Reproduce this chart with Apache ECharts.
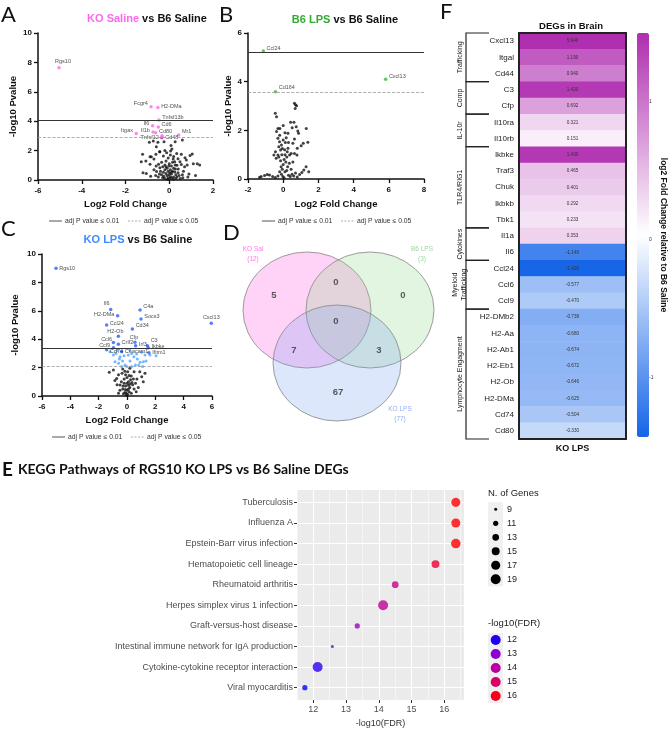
<!DOCTYPE html>
<html><head><meta charset="utf-8">
<script src="https://cdn.jsdelivr.net/npm/echarts@6/dist/echarts.min.js"></script>
<style>html,body{margin:0;padding:0;background:#fff}#c{width:669px;height:731px}</style>
</head><body><div id="c"></div>
<script>
// ---------- Panel A: KO Saline vs B6 Saline ----------
const aGenes = ['Rgs10','Fcgr4','H2-DMa','Tnfsf13b','Il6','Cd6','Itgax','Il1b','Cd80','Mr1','Tnfsf12','Cd48'];
const aFC    = [-5.04,-0.83,-0.52,-0.47,-0.76,-0.50,-1.51,-0.74,-0.62,0.43,-0.33,-0.33];
const aLogP  = [7.64,4.99,4.93,4.08,3.69,3.60,3.17,3.27,3.22,3.06,3.01,2.90];
const aThresholds = [4.08, 2.93];
const aBackground = [[-0.91,2.56],[-0.73,2.65],[-0.52,2.56],[-0.34,2.88],[-0.24,2.61],[0.08,2.34],[0.27,2.61],[0.6,2.72],[0.12,2.11],[0.06,1.97],[-0.43,1.93],[-0.61,1.75],[-0.88,1.59],[-1.22,1.75],[-1.07,1.29],[-0.88,1.07],[-0.7,1.43],[-0.27,1.63],[0.34,1.81],[0.55,1.75],[0.72,1.52],[0.95,1.66],[0.49,1.25],[0.82,1.02],[1.1,1.11],[1.28,1.11],[-0.49,1.07],[-0.43,0.84],[-0.2,1.02],[0.18,1.43],[0.27,1.02],[0.41,0.75],[-0.58,0.57],[-0.27,0.52],[-1.28,1.25],[-1.05,0.45],[-0.82,1.59],[-0.59,2.27],[-0.44,1.93],[0.78,1.36],[1.05,1.77],[1.39,1.02],[-0.3,0.9],[-0.2,0.7],[-0.15,0.45],[-0.1,0.3],[-0.05,0.15],[0,0.05],[0.05,0.2],[0.1,0.4],[0.15,0.6],[0.2,0.8],[0.25,0.55],[0.3,0.35],[0.35,0.2],[0.4,0.5],[-0.35,0.35],[-0.25,0.25],[-0.4,0.6],[-0.1,0.8],[0,1.1],[0.1,0.95],[-0.05,0.6],[0.05,0.7],[0.2,0.2],[0.3,0.1],[-0.2,0.1],[-0.3,0.15],[0.45,0.3],[0.5,0.1],[0.6,0.35],[-0.5,0.2],[-0.45,0.4],[0.15,1.2],[-0.15,1.3],[0.35,1.0],[0.25,1.25],[-0.05,1.5],[0.05,1.7],[0.2,1.6],[-0.12,1.85],[-0.2,2.0],[0.4,1.45],[-0.6,0.95],[0.65,0.6],[0.7,0.9],[-0.7,0.7],[0.55,1.05],[-0.35,1.2],[0,0.35],[0.1,0.15],[-0.08,0.05],[0.18,0.05],[-0.15,0.9],[0.28,0.75],[0.62,0.15],[-0.62,0.3],[0.02,0.5],[-0.02,0.95],[0.12,0.55],[0.9,0.4],[1.2,0.3],[0.85,0.2],[-0.85,0.25],[-1.2,0.5]];

// ---------- Panel B: B6 LPS vs B6 Saline ----------
const bGenes = ['Ccl24','Cxcl13','Cd164'];
const bFC    = [-1.13, 5.82, -0.44];
const bLogP  = [5.26, 4.10, 3.59];
const bThresholds = [5.22, 3.55];
const bBackground = [[0.64,3.11],[0.76,3.01],[0.68,2.9],[0.7,3.05],[-0.45,2.7],[-0.38,2.56],[0.42,2.33],[0.61,2.33],[0.74,2.15],[0.51,2.11],[-0.3,2.08],[-0.38,1.95],[-0.19,2.08],[1.31,2.08],[0.83,1.97],[0.87,1.88],[0.27,1.88],[0.17,1.7],[-0.3,1.67],[-0.21,1.53],[1.4,1.51],[1.14,1.47],[1.02,1.37],[0.64,1.64],[0.55,1.47],[0.8,1.26],[-0.44,1.12],[-0.53,0.99],[-0.3,0.99],[-0.4,0.85],[-0.25,1.33],[-0.15,1.19],[0.27,1.26],[0.23,1.12],[0.36,0.99],[0.45,1.05],[0.64,1.05],[0.78,0.99],[1.17,0.37],[1.06,0.27],[0.93,0.19],[-0.78,0.16],[-1.06,0.14],[-1.25,0.1],[-1.34,0.07],[-0.91,0.19],[-0.1,0.2],[-0.05,0.4],[0,0.6],[0.05,0.8],[-0.08,1.0],[0.08,1.2],[-0.12,0.5],[0.1,0.3],[0.15,0.7],[-0.15,0.75],[0.2,0.9],[-0.2,0.3],[0.12,1.5],[-0.1,1.4],[0,1.6],[0.05,0.05],[-0.02,0.1],[0.3,0.15],[0.4,0.1],[0.5,0.2],[0.6,0.12],[0.7,0.25],[0.8,0.08],[-0.3,0.12],[-0.45,0.06],[-0.6,0.1],[0.25,0.5],[0.35,0.65],[-0.25,0.9],[0.1,1.0],[-0.05,1.25],[0.2,0.35],[1.3,0.5],[1.45,0.3],[0.55,0.7],[0.45,0.4],[0.3,1.5],[-0.2,1.8],[0.1,1.9],[0.0,2.2]];

// ---------- Panel C: KO LPS vs B6 Saline ----------
const cGenes = ['Rgs10','Cxcl13','Il6','H2-DMa','C4a','Socs3','Ccl24','Cd34','H2-Ob','Cfp','Ccl6','Crlf2','Irf3','C3','Ccl9','Ikbke','Cd74','Ceacam1','Ifitm1'];
const cFC    = [-5.01,5.95,-1.15,-0.66,0.92,0.99,-1.44,0.38,-0.61,0.56,-0.96,-0.61,0.61,1.44,-0.96,1.50,-1.44,-0.38,1.55];
const cLogP  = [8.99,5.12,6.10,5.66,6.06,5.42,5.00,4.72,4.20,3.78,3.76,3.64,3.54,3.54,3.40,3.40,3.26,3.12,3.05];
const cThresholds = [3.38, 2.1];
const cSignificant = [[-0.49,2.77],[-0.31,2.46],[-0.59,2.3],[-0.14,2.18],[0.21,2.46],[0.49,2.77],[0.73,2.61],[0.92,2.37],[1.15,2.42],[1.34,2.46],[0.59,2.18],[0.82,2.18],[0.09,2.89],[0.33,3.0],[-0.96,2.89],[-1.2,3.12],[-0.78,3.0],[-0.38,2.07],[-0.02,2.07],[0.68,2.96],[1.27,2.89],[1.04,3.08],[-0.54,2.61],[-0.21,2.84],[1.62,2.89],[1.1,2.07],[0.33,2.07],[-0.85,2.42],[2.05,2.84],[-0.7,3.2],[0.2,3.25]];
const cBackground = [[-1.25,1.67],[-0.96,1.83],[1.27,1.6],[1.15,1.01],[1.04,1.36],[-0.73,1.24],[-0.49,0.77],[-0.3,1.9],[0.2,1.95],[0.5,1.7],[-0.6,1.5],[0.7,1.2],[0.3,1.4],[-0.2,1.2],[0.1,1.0],[-0.4,1.0],[0.4,0.8],[-0.1,0.7],[0.2,0.6],[-0.3,0.5],[0,0.4],[0.15,0.3],[-0.15,0.25],[0.05,0.1],[-0.05,0.05],[0.3,0.2],[-0.25,0.15],[0.5,0.5],[-0.5,0.4],[0.6,0.9],[0.8,0.6],[-0.7,0.8],[0.25,1.15],[-0.1,1.5],[0.05,1.7],[-0.35,1.6],[0.45,1.2],[0.9,1.7],[-0.85,1.1],[0.1,0.75],[-0.2,0.9],[0.35,0.95],[0,1.3],[-0.05,0.2],[0.1,0.5],[-0.12,0.45],[0.22,0.85],[-0.28,0.7],[0.0,0.9],[0.15,1.45],[-0.15,1.75],[0.65,0.3],[-0.6,0.2]];

// ---------- Panel D: Venn ----------
const vennSets   = ['KO Sal','B6 LPS','KO LPS'];
const vennTotals = [12, 3, 77];
const vennRegions = ['KO Sal only','KO Sal & B6 LPS','B6 LPS only','All three','KO Sal & KO LPS','B6 LPS & KO LPS','KO LPS only'];
const vennCounts  = [5, 0, 0, 0, 7, 3, 67];

// ---------- Panel F: heatmap ----------
const fColumn = ['KO LPS'];
const fGenes  = ['Cxcl13','Itgal','Cd44','C3','Cfp','Il10ra','Il10rb','Ikbke','Traf3','Chuk','Ikbkb','Tbk1','Il1a','Il6','Ccl24','Ccl6','Ccl9','H2-DMb2','H2-Aa','H2-Ab1','H2-Eb1','H2-Ob','H2-DMa','Cd74','Cd80'];
const fValues = [5.940,1.190,0.940,1.420,0.692,0.321,0.151,1.430,0.465,0.401,0.292,0.233,0.353,-1.140,-1.420,-0.577,-0.470,-0.738,-0.680,-0.674,-0.672,-0.646,-0.625,-0.504,-0.330];
const fGroups     = ['Trafficking','Comp','IL-10r','TLR4/RIG1','Cytokines','Myeloid\nTrafficking','Lymphocyte Engagment'];
const fGroupStart = [0,3,5,7,12,14,17];
const fGroupEnd   = [2,4,6,11,13,16,24];
const fScaleTicks = [-1,0,1];

// ---------- Panel E: KEGG ----------
const eTerms = ['Tuberculosis','Influenza A','Epstein-Barr virus infection','Hematopoietic cell lineage','Rheumatoid arthritis','Herpes simplex virus 1 infection','Graft-versus-host disease','Intestinal immune network for IgA production','Cytokine-cytokine receptor interaction','Viral myocarditis'];
const eFDR   = [16.35,16.35,16.35,15.73,14.50,14.13,13.34,12.58,12.13,11.74];
const eGenes = [17,17,18,15,13,19,11,9,19,11];
const eXTicks = [12,13,14,15,16];
const eSizeBreaks  = [9,11,13,15,17,19];
const eColorBreaks = [12,13,14,15,16];

// ================= layout & styles =================
const SANS = 'Liberation Sans';
const chart = echarts.init(document.getElementById('c'), null, {renderer:'canvas'});

const eColorStops = ['#0000ff','#8800d5','#bb00a0','#e0005c','#ff0000'];
const eMin = Math.min(...eFDR), eMax = Math.max(...eFDR);
function hex2rgb(h){return [1,3,5].map(i=>parseInt(h.substr(i,2),16));}
function lerpColor(t){
  t=Math.max(0,Math.min(1,t)); const n=eColorStops.length-1; const k=Math.min(n-1,Math.floor(t*n)); const f=t*n-k;
  const a=hex2rgb(eColorStops[k]), b=hex2rgb(eColorStops[k+1]);
  return 'rgb('+a.map((v,i)=>Math.round(v+(b[i]-v)*f)).join(',')+')';
}
function geneSize(n){return Math.sqrt(9 + (n-9)*9.1);}

function volX(grid,min,max,gap){
  return {type:'value',gridIndex:grid,min,max,interval:2,name:'Log2 Fold Change',nameLocation:'middle',nameGap:gap,
    nameTextStyle:{fontFamily:SANS,fontWeight:'bold',fontSize:9.5,color:'#111'},
    axisLine:{onZero:false,lineStyle:{color:'#111',width:1.5}},
    axisTick:{length:4,lineStyle:{color:'#111',width:1.3}},
    axisLabel:{fontFamily:SANS,fontSize:8,fontWeight:'bold',color:'#111',margin:7},
    splitLine:{show:false}};
}
function volY(grid,min,max,gap){
  return {type:'value',gridIndex:grid,min,max,interval:2,name:'-log10 Pvalue',nameLocation:'middle',nameGap:gap,
    nameTextStyle:{fontFamily:SANS,fontWeight:'bold',fontSize:9.5,color:'#111'},
    axisLine:{onZero:false,lineStyle:{color:'#111',width:1.5}},
    axisTick:{length:4,lineStyle:{color:'#111',width:1.3}},
    axisLabel:{fontFamily:SANS,fontSize:8,fontWeight:'bold',color:'#111',margin:6},
    splitLine:{show:false}};
}
function threshLines(th){
  return {silent:true,symbol:'none',label:{show:false},animation:false,
    data:[{yAxis:th[0],lineStyle:{type:'solid',color:'#333',width:1}},
          {yAxis:th[1],lineStyle:{type:'dashed',color:'#9a9a9a',width:0.8}}]};
}
function labeled(genes,fc,lp,places,shifts){
  return genes.map((g,i)=>({name:g,value:[fc[i],lp[i]],label:{position:places[i],offset:shifts[i]}}));
}
const geneLabel = {show:true,formatter:p=>p.name,fontFamily:SANS,fontSize:5.5,color:'#222',distance:1.5};

const aPlaces = ['top','left','right','right','left','right','left','left','right','right','left','right'];
const aShifts = [[4,0],[0,-3],[0,-1],[0,-3],[0,-2],[0,-3],[0,-3],[0,-1],[0,-1],[0,-4],[0,2],[0,0]];
const bPlaces = ['right','right','right'];
const bShifts = [[0,-3],[0,-3],[0,-4]];
const cPlaces = ['right','top','top','left','right','right','right','right','top','top','left','right','right','right','left','right','right','right','right'];
const cShifts = [[0,0],[0,0],[-4,0],[0,-1],[0,-3],[0,-3],[0,-2],[0,-3],[-3,1],[-1,1],[2,-3],[0,-2],[0,-1],[0,-5],[0,-2],[0,-1],[0,2],[0,0],[0,0]];

// venn geometry (grid 3 units = px)
const vennCircleLayout = [[77,80,64,58],[140,80,64,58],[107,133,64,58]];
const vennFill = ['rgba(255,120,232,0.33)','rgba(140,215,130,0.25)','rgba(120,160,240,0.25)'];
const vennSetColor = ['#ff55dd','#88cc88','#7799ee'];
const vennSetLabelPos = [[23,24],[192,24],[170,184]];
const vennCountPos = [[44,65],[106,52],[173,65],[106,91],[64,120],[149,120],[108,162]];

const series = [];
// A
series.push({type:'scatter',xAxisIndex:0,yAxisIndex:0,symbolSize:3,itemStyle:{color:'#111'},data:aBackground,markLine:threshLines(aThresholds),z:2});
series.push({type:'scatter',xAxisIndex:0,yAxisIndex:0,symbolSize:3.5,itemStyle:{color:'#ff66ee'},label:geneLabel,data:labeled(aGenes,aFC,aLogP,aPlaces,aShifts),z:3});
// B
series.push({type:'scatter',xAxisIndex:1,yAxisIndex:1,symbolSize:3,itemStyle:{color:'#111'},data:bBackground,markLine:threshLines(bThresholds),z:2});
series.push({type:'scatter',xAxisIndex:1,yAxisIndex:1,symbolSize:3.5,itemStyle:{color:'#33bb33'},label:geneLabel,data:labeled(bGenes,bFC,bLogP,bPlaces,bShifts),z:3});
// C
series.push({type:'scatter',xAxisIndex:2,yAxisIndex:2,symbolSize:3,itemStyle:{color:'#111'},data:cBackground,markLine:threshLines(cThresholds),z:2});
series.push({type:'scatter',xAxisIndex:2,yAxisIndex:2,symbolSize:3,itemStyle:{color:'#4da6ff'},data:cSignificant,z:2});
series.push({type:'scatter',xAxisIndex:2,yAxisIndex:2,symbolSize:3.5,itemStyle:{color:'#2a5cff'},label:geneLabel,data:labeled(cGenes,cFC,cLogP,cPlaces,cShifts),z:3});
// D venn circles
series.push({type:'custom',xAxisIndex:3,yAxisIndex:3,clip:false,silent:true,
  data:vennSets.map((s,i)=>[vennCircleLayout[i][0],vennCircleLayout[i][1],vennCircleLayout[i][2],vennCircleLayout[i][3],i]),
  renderItem:(params,api)=>{
    const c=api.coord([api.value(0),api.value(1)]);
    const s=api.size([api.value(2),api.value(3)]);
    const i=api.value(4);
    return {type:'circle',x:c[0],y:c[1],scaleY:s[1]/s[0],shape:{cx:0,cy:0,r:s[0]},
      style:{fill:vennFill[i],stroke:'#8c8c8c',lineWidth:0.9,strokeNoScale:true}};
  }});
series.push({type:'scatter',xAxisIndex:3,yAxisIndex:3,symbolSize:1,itemStyle:{color:'rgba(0,0,0,0)'},silent:true,z:4,
  data:vennCounts.map((n,i)=>({name:vennRegions[i],value:[vennCountPos[i][0],vennCountPos[i][1],n]})),
  label:{show:true,position:'inside',formatter:p=>String(p.value[2]),fontFamily:SANS,fontSize:9.5,fontWeight:'bold',color:'#333'}});
series.push({type:'scatter',xAxisIndex:3,yAxisIndex:3,symbolSize:1,itemStyle:{color:'rgba(0,0,0,0)'},silent:true,z:4,
  data:vennSets.map((s,i)=>({name:s,value:[vennSetLabelPos[i][0],vennSetLabelPos[i][1],vennTotals[i]],label:{color:vennSetColor[i]}})),
  label:{show:true,position:'inside',formatter:p=>p.name+'\n('+p.value[2]+')',fontFamily:SANS,fontSize:6.5,lineHeight:10}});
// F heatmap
const heatIndex = series.length;
series.push({type:'heatmap',xAxisIndex:4,yAxisIndex:4,
  data:fValues.map((v,i)=>[0,i,v]),
  label:{show:true,formatter:p=>p.value[2].toFixed(3),fontFamily:SANS,fontSize:4.6,color:'#333'},
  emphasis:{disabled:true},z:2});
series.push({type:'custom',xAxisIndex:4,yAxisIndex:4,clip:false,silent:true,z:5,
  data:fGroups.map((g,i)=>[0,fGroupStart[i],fGroupEnd[i],i]),
  renderItem:(params,api)=>{
    const h=api.size([0,1])[1];
    const top=api.coord([0,api.value(1)])[1]-h/2;
    const bot=api.coord([0,api.value(2)])[1]+h/2;
    const x=params.coordSys.x-53;
    const name=fGroups[api.value(3)];
    return {type:'group',children:[
      {type:'polyline',shape:{points:[[x+23,top],[x,top],[x,bot],[x+23,bot]]},style:{stroke:'#222',lineWidth:1.2,fill:null}},
      {type:'text',x:x-6,y:(top+bot)/2,rotation:Math.PI/2,
        style:{text:name,textAlign:'center',textVerticalAlign:'middle',fontFamily:SANS,fontSize:7,fill:'#222',lineHeight:9}}
    ]};
  }});
// E
const eIndex = series.length;
series.push({type:'scatter',xAxisIndex:7,yAxisIndex:7,
  data:eFDR.map((x,i)=>({name:eTerms[i],value:[x,i,eGenes[i]]})),
  symbolSize:v=>geneSize(v[2]),z:3});

// ---------- axes ----------
const frameLine = {show:true,onZero:false,lineStyle:{color:'#222',width:2}};
const xAxis = [
  volX(0,-6,2,19), volX(1,-2,8,20), volX(2,-6,6,19),
  {type:'value',gridIndex:3,min:0,max:210,show:false},
  {type:'category',gridIndex:4,data:fColumn,position:'bottom',z:10,axisLine:frameLine,
    axisTick:{alignWithLabel:true,length:4,lineStyle:{color:'#222',width:1.2}},
    axisLabel:{fontFamily:SANS,fontSize:9,fontWeight:'bold',color:'#111',margin:5}},
  {type:'category',gridIndex:4,data:fColumn,position:'top',z:10,axisLine:frameLine,axisTick:{show:false},axisLabel:{show:false}},
  {type:'value',gridIndex:5,min:0,max:1,show:false},
  {type:'value',gridIndex:6,min:11.5,max:16.6,minInterval:1,maxInterval:1,position:'bottom',
    name:'-log10(FDR)',nameLocation:'middle',nameGap:19,nameTextStyle:{fontFamily:SANS,fontSize:9,color:'#333'},
    axisLine:{show:false,onZero:false},
    axisTick:{show:true,length:3,customValues:eXTicks,lineStyle:{color:'#333',width:1}},
    axisLabel:{customValues:eXTicks,fontFamily:SANS,fontSize:9,color:'#4d4d4d',margin:5,formatter:v=>eXTicks.includes(v)?String(v):''},
    splitLine:{show:true,lineStyle:{color:'#ffffff',width:1.1}}},
  {type:'value',gridIndex:6,min:11.5,max:16.6,interval:1,position:'top',
    axisLine:{show:false,onZero:false},axisTick:{show:false},axisLabel:{show:false},
    splitLine:{show:true,lineStyle:{color:'#ffffff',width:0.5}}}
];
const yAxis = [
  volY(0,0,10,20), volY(1,0,6,15), volY(2,0,10,22),
  {type:'value',gridIndex:3,min:0,max:200,inverse:true,show:false},
  {type:'category',gridIndex:4,data:fGenes,inverse:true,position:'left',z:10,axisLine:frameLine,
    axisTick:{alignWithLabel:true,length:4,lineStyle:{color:'#222',width:1}},
    axisLabel:{fontFamily:SANS,fontSize:8,color:'#222',margin:5}},
  {type:'category',gridIndex:4,data:fGenes,inverse:true,position:'right',z:10,axisLine:frameLine,axisTick:{show:false},axisLabel:{show:false}},
  {type:'value',gridIndex:5,min:-1.43,max:1.5,minInterval:1,maxInterval:1,position:'right',
    name:'log2 Fold Change relative to B6 Saline',nameLocation:'middle',nameRotate:-90,nameGap:13,
    nameTextStyle:{fontFamily:SANS,fontWeight:'bold',fontSize:8.5,color:'#111'},
    axisLine:{show:false,onZero:false},
    axisTick:{show:true,length:2,customValues:fScaleTicks,lineStyle:{color:'#333',width:0.8}},
    axisLabel:{customValues:fScaleTicks,fontFamily:SANS,fontSize:5,color:'#333',margin:3,formatter:v=>fScaleTicks.includes(v)?String(v):''},
    splitLine:{show:false}},
  {type:'value',gridIndex:6,min:-0.6,max:9.6,inverse:true,minInterval:1,maxInterval:1,
    axisLine:{show:false,onZero:false},
    axisTick:{show:true,length:3,customValues:eTerms.map((t,i)=>i),lineStyle:{color:'#333',width:1}},
    axisLabel:{customValues:eTerms.map((t,i)=>i),fontFamily:SANS,fontSize:9,color:'#4d4d4d',margin:4,
      formatter:v=>(Number.isInteger(v)&&eTerms[v])?eTerms[v]:''},
    splitLine:{show:true,lineStyle:{color:'#ffffff',width:1.1}}}
];

// ---------- graphics (panel letters, legends) ----------
const g = [];
function letter(t,x,y,size){g.push({type:'text',x,y,style:{text:t,fontFamily:'Lato',fontSize:size||22,fill:'#111'}});}
letter('A',1,4); letter('B',219,4); letter('C',1,218); letter('D',223,222); letter('F',440,1);
function threshLegend(x0,y){
  g.push({type:'line',shape:{x1:x0,y1:y,x2:x0+13,y2:y},style:{stroke:'#555',lineWidth:1}});
  g.push({type:'text',x:x0+16,y,style:{text:'adj P value ≤ 0.01',fontFamily:SANS,fontSize:6.8,fill:'#333',textVerticalAlign:'middle'}});
  g.push({type:'line',shape:{x1:x0+79,y1:y,x2:x0+92,y2:y},style:{stroke:'#999',lineWidth:0.8,lineDash:[2,1.5]}});
  g.push({type:'text',x:x0+95,y,style:{text:'adj P value ≤ 0.05',fontFamily:SANS,fontSize:6.8,fill:'#333',textVerticalAlign:'middle'}});
}
threshLegend(49,221); threshLegend(262,221); threshLegend(52,437);
// E legends
g.push({type:'text',x:488,y:493,style:{text:'N. of Genes',fontFamily:SANS,fontSize:9.5,fill:'#222',textVerticalAlign:'middle'}});
eSizeBreaks.forEach((n,i)=>{
  const cy=509.3+14*i;
  g.push({type:'rect',shape:{x:488,y:cy-7,width:15,height:14},style:{fill:'#f0f0f0'}});
  g.push({type:'circle',shape:{cx:495.7,cy,r:geneSize(n)/2},style:{fill:'#000'}});
  g.push({type:'text',x:507,y:cy,style:{text:String(n),fontFamily:SANS,fontSize:9,fill:'#222',textVerticalAlign:'middle'}});
});
g.push({type:'text',x:488,y:623,style:{text:'-log10(FDR)',fontFamily:SANS,fontSize:9.5,fill:'#222',textVerticalAlign:'middle'}});
eColorBreaks.forEach((v,i)=>{
  const cy=640+14*i;
  g.push({type:'rect',shape:{x:488,y:cy-7,width:15,height:14},style:{fill:'#f0f0f0'}});
  g.push({type:'circle',shape:{cx:495.7,cy,r:5},style:{fill:lerpColor((v-eMin)/(eMax-eMin))}});
  g.push({type:'text',x:507,y:cy,style:{text:String(v),fontFamily:SANS,fontSize:9,fill:'#222',textVerticalAlign:'middle'}});
});

const titleStyle = {fontFamily:SANS,fontWeight:'bold',fontSize:11,color:'#111'};
const option = {
  animation:false,
  backgroundColor:'#ffffff',
  title:[
    {text:'{p|KO Saline} vs B6 Saline',left:147,top:13,textAlign:'center',padding:0,textStyle:Object.assign({},titleStyle,{rich:{p:{fontFamily:SANS,fontWeight:'bold',fontSize:11,color:'#ff66ee'}}})},
    {text:'{p|B6 LPS} vs B6 Saline',left:345,top:14,textAlign:'center',padding:0,textStyle:Object.assign({},titleStyle,{rich:{p:{fontFamily:SANS,fontWeight:'bold',fontSize:11,color:'#33aa33'}}})},
    {text:'{p|KO LPS} vs B6 Saline',left:138,top:234,textAlign:'center',padding:0,textStyle:Object.assign({},titleStyle,{rich:{p:{fontFamily:SANS,fontWeight:'bold',fontSize:11,color:'#3d8bff'}}})},
    {text:'DEGs in Brain',left:571,top:21,textAlign:'center',padding:0,textStyle:{fontFamily:SANS,fontWeight:'bold',fontSize:9.5,color:'#111'}},
    {text:'{e|E} {t|KEGG Pathways of RGS10 KO LPS vs B6 Saline DEGs}',left:2,top:460,padding:0,
      textStyle:{rich:{e:{fontFamily:'Lato',fontSize:19,color:'#111'},t:{fontFamily:'Lato',fontSize:14,color:'#111'}}}}
  ],
  grid:[
    {left:38,top:33,width:175,height:147},
    {left:248,top:33,width:176,height:146},
    {left:42,top:254,width:170,height:142},
    {left:230,top:230,width:210,height:200},
    {left:519,top:33,width:107,height:406},
    {left:637,top:33,width:12,height:404},
    {left:297,top:490,width:167,height:210,show:true,backgroundColor:'#ebebeb',borderWidth:0}
  ],
  xAxis, yAxis,
  visualMap:[
    {type:'continuous',seriesIndex:heatIndex,dimension:2,min:-1.43,max:1.5,
      inRange:{color:['#1565e8','#ffffff','#b02eb0']},outOfRange:{color:'#c24ec2'},
      orient:'vertical',left:637,top:33,itemWidth:12,itemHeight:404,padding:0,calculable:false,hoverLink:false,
      textStyle:{fontSize:1,color:'rgba(0,0,0,0)'}},
    {type:'continuous',show:false,seriesIndex:eIndex,dimension:0,min:eMin,max:eMax,inRange:{color:eColorStops}}
  ],
  series,
  graphic:{elements:g}
};
chart.setOption(option);
</script></body></html>
